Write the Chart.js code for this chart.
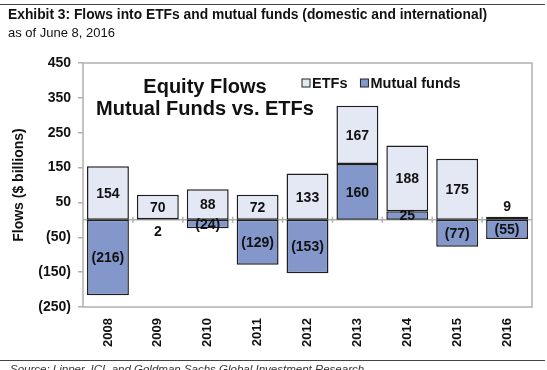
<!DOCTYPE html>
<html>
<head>
<meta charset="utf-8">
<script src="https://cdn.jsdelivr.net/npm/chart.js@4.4.0/dist/chart.umd.min.js"></script>
<style>
  body { margin: 0; background: #fff; }
  #wrap { position: relative; width: 547px; height: 370px; overflow: hidden; font-family: "Liberation Sans", Arial, sans-serif; }
  #chart { position: absolute; left: 0; top: 0; }
  .rule { position: absolute; left: 0; width: 545px; height: 0; border-top: 1.5px solid #444; }
  #title { position: absolute; left: 8px; top: 7px; font-size: 13.8px; font-weight: bold; color: #111; white-space: nowrap; }
  #subtitle { position: absolute; left: 8px; top: 25px; font-size: 13px; color: #111; white-space: nowrap; }
  #source { position: absolute; left: 10px; top: 363px; font-size: 11.5px; font-style: italic; color: #333; white-space: nowrap; }
</style>
</head>
<body>
<div id="wrap">
  <canvas id="chart" width="547" height="370"></canvas>
  <div class="rule" style="top:4px"></div>
  <div id="title">Exhibit 3: Flows into ETFs and mutual funds (domestic and international)</div>
  <div id="subtitle">as of June 8, 2016</div>
  <div class="rule" style="top:360px"></div>
  <div id="source">Source: Lipper, ICI, and Goldman Sachs Global Investment Research</div>
</div>
<script>
const years = ['2008', '2009', '2010', '2011', '2012', '2013', '2014', '2015', '2016'];
const etfFlows = [154, 70, 88, 72, 133, 167, 188, 175, 9];
const mutualFundFlows = [-216, 2, -24, -129, -153, 160, 25, -77, -55];

const etfColor = '#e4e8f4';
const mfColor = '#8397cb';

function fmt (v) {
  return v < 0 ? '(' + Math.abs(v) + ')' : String(v);
}

// zero line, plot frame, bar labels, inner title and legend
const decorations = {
  id: 'decorations',
  beforeDatasetsDraw (chart) {
    const ctx = chart.ctx;
    const area = chart.chartArea;
    const y0 = chart.scales.y.getPixelForValue(0);
    const x = chart.scales.x;
    ctx.save();
    ctx.strokeStyle = '#b0b0b0';
    ctx.lineWidth = 1.5;
    ctx.strokeRect(area.left, area.top, area.right - area.left, area.bottom - area.top);
    ctx.beginPath();
    ctx.moveTo(area.left, y0);
    ctx.lineTo(area.right, y0);
    for (let i = 1; i < years.length; i++) {
      const bx = (x.getPixelForValue(i - 1) + x.getPixelForValue(i)) / 2;
      ctx.moveTo(bx, y0 - 3);
      ctx.lineTo(bx, y0 + 3);
    }
    ctx.stroke();
    ctx.restore();
  },
  afterDatasetsDraw (chart) {
    const ctx = chart.ctx;
    ctx.save();
    ctx.fillStyle = '#111';
    ctx.textAlign = 'center';
    ctx.textBaseline = 'middle';
    ctx.font = 'bold 14px "Liberation Sans", Arial, sans-serif';
    chart.data.datasets.forEach((ds, di) => {
      chart.getDatasetMeta(di).data.forEach((bar, i) => {
        const v = ds.data[i];
        const h = Math.abs(bar.base - bar.y);
        let ty = (bar.y + bar.base) / 2;
        // bars too thin for a label get it outside
        if (h < 6) {
          ty = ds.label === 'ETFs' ? Math.min(bar.y, bar.base) - 11 : Math.max(bar.y, bar.base) + 11;
        }
        ctx.fillText(fmt(v), bar.x, ty + 1);
      });
    });

    // inner title
    ctx.font = 'bold 20px "Liberation Sans", Arial, sans-serif';
    ctx.fillText('Equity Flows', 205, 87);
    ctx.fillText('Mutual Funds vs. ETFs', 205, 109);

    // legend (ETFs first)
    ctx.font = 'bold 14.5px "Liberation Sans", Arial, sans-serif';
    ctx.textAlign = 'left';
    let lx = 302;
    const ly = 83;
    [1, 0].forEach(di => {
      const ds = chart.data.datasets[di];
      ctx.fillStyle = ds.backgroundColor;
      ctx.fillRect(lx, ly - 4, 8, 8);
      ctx.strokeStyle = '#222';
      ctx.lineWidth = 1;
      ctx.strokeRect(lx, ly - 4, 8, 8);
      ctx.fillStyle = '#111';
      ctx.fillText(ds.label, lx + 10, ly + 1);
      lx += 10 + ctx.measureText(ds.label).width + 13;
    });
    ctx.restore();
  }
};

new Chart(document.getElementById('chart'), {
  type: 'bar',
  data: {
    labels: years,
    datasets: [{
      label: 'Mutual funds',
      data: mutualFundFlows,
      backgroundColor: mfColor,
      borderColor: '#1e1e1e',
      borderWidth: 1.5,
      borderSkipped: false
    }, {
      label: 'ETFs',
      data: etfFlows,
      backgroundColor: etfColor,
      borderColor: '#1e1e1e',
      borderWidth: 1.5,
      borderSkipped: false
    }]
  },
  options: {
    responsive: false,
    animation: false,
    layout: { padding: { top: 63, right: 15, left: 0, bottom: 0 } },
    datasets: { bar: { categoryPercentage: 1, barPercentage: 0.84 } },
    plugins: {
      legend: { display: false },
      tooltip: { enabled: false }
    },
    scales: {
      x: {
        stacked: true,
        grid: { display: false, drawTicks: false },
        border: { display: false },
        ticks: {
          minRotation: 90,
          maxRotation: 90,
          padding: 11,
          color: '#111',
          font: { family: '"Liberation Sans", Arial, sans-serif', size: 13, weight: 'bold' }
        },
        afterFit (scale) { scale.height = 63; }
      },
      y: {
        stacked: true,
        min: -250,
        max: 450,
        grid: { drawOnChartArea: false, drawTicks: true, tickLength: 5, color: '#b0b0b0', lineWidth: 1.5 },
        border: { display: false },
        ticks: {
          stepSize: 100,
          padding: 7,
          color: '#111',
          font: { family: '"Liberation Sans", Arial, sans-serif', size: 14, weight: 'bold' },
          callback: v => fmt(v)
        },
        title: {
          display: true,
          text: 'Flows ($ billions)',
          color: '#111',
          padding: { top: 11, bottom: 0 },
          font: { family: '"Liberation Sans", Arial, sans-serif', size: 14, weight: 'bold' }
        },
        afterFit (scale) { scale.width = 83; }
      }
    }
  },
  plugins: [decorations]
});
</script>
</body>
</html>
